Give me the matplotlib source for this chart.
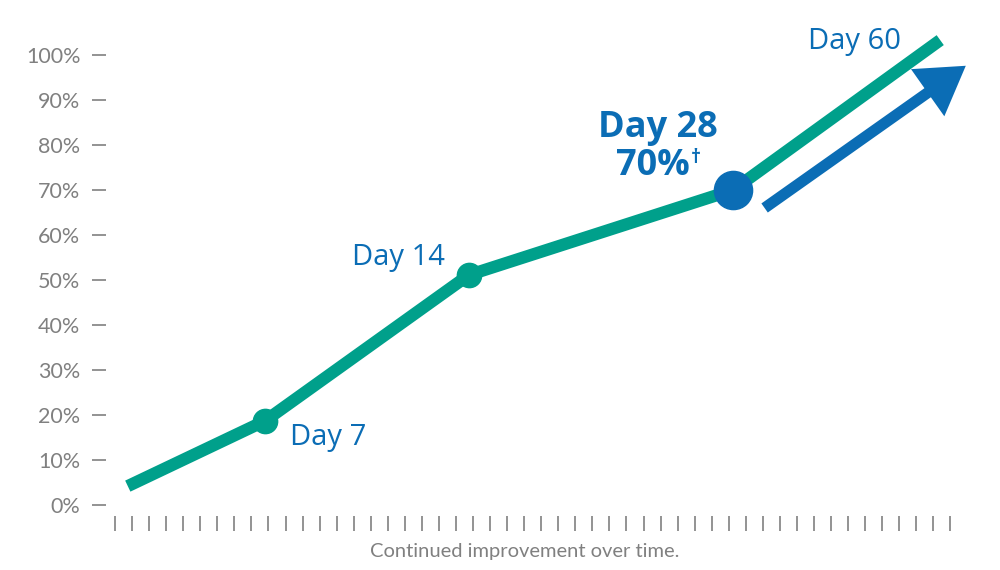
import matplotlib
matplotlib.use("Agg")
import matplotlib.pyplot as plt

# data (x in tick steps, y in percent)
line_x = [0.75, 8.8, 20.75, 36.25, 48.4]
line_y = [4.2, 18.7, 51.1, 70.0, 103.3]
day_labels = ["Day 7", "Day 14", "Day 28", "Day 60"]
small_pts_x = [8.8, 20.75]
small_pts_y = [18.7, 51.1]
big_pt_x = [36.25]
big_pt_y = [70.0]
arrow_tail = (38.1, 66.0)
arrow_tip = (49.9, 97.6)
yticks = list(range(0, 101, 10))
ytick_labels = [f"{v}%" for v in yticks]
xticks = list(range(50))

teal = "#00A08B"
blue = "#0B6DB5"
gray = "#808080"

fig = plt.figure(figsize=(10, 5.7), dpi=100)
ax = fig.add_axes([0.106, 0.0947, 0.884, 0.8965])
ax.set_xlim(-0.528, 51.32)
ax.set_ylim(-2.444, 111.1)

ax.plot(line_x, line_y, color=teal, lw=8.8, solid_capstyle="butt",
        solid_joinstyle="round", zorder=2, clip_on=False)
ax.plot(small_pts_x, small_pts_y, "o", color=teal, ms=17.5, zorder=3)
ax.plot(big_pt_x, big_pt_y, "o", color=blue, ms=27.5, zorder=4)

ax.annotate("", xy=arrow_tip, xytext=arrow_tail,
            arrowprops=dict(arrowstyle="-|>,head_length=1.1,head_width=0.68",
                            color=blue, lw=8, mutation_scale=20,
                            shrinkA=0, shrinkB=0, capstyle="butt",
                            joinstyle="miter"),
            zorder=3, annotation_clip=False)

fnt = "Open Sans"
ax.text(10.26, 15.1, day_labels[0], color=blue, fontsize=21, family=fnt,
        ha="left", va="center")
ax.text(19.35, 54.9, day_labels[1], color=blue, fontsize=21, family=fnt,
        ha="right", va="center")
ax.text(31.85, 83.8, day_labels[2], color=blue, fontsize=26, family=fnt,
        fontweight="bold", ha="center", va="center")
ax.text(33.72, 75.3, "70%", color=blue, fontsize=26, family=fnt,
        fontweight="bold", ha="right", va="center")
ax.text(33.8, 77.2, "\u2020", color=blue, fontsize=14, family=fnt,
        fontweight="bold", ha="left", va="center")
ax.text(43.4, 103.1, day_labels[3], color=blue, fontsize=21, family=fnt,
        ha="center", va="center")

ax.set_yticks(yticks)
ax.set_yticklabels(ytick_labels)
ax.set_xticks(xticks)
ax.set_xticklabels([])
ax.tick_params(axis="y", length=10, width=1.2, color=gray, labelcolor=gray,
               labelsize=15.5, pad=8.5)
ax.tick_params(axis="x", length=10.8, width=1.2, color=gray)
for lab in ax.get_yticklabels():
    lab.set_family("Lato")
for s in ax.spines.values():
    s.set_visible(False)

ax.set_xlabel("Continued improvement over time.", color=gray, fontsize=14.5,
              family="Lato")
ax.xaxis.set_label_coords(0.474, -0.053)
ax.xaxis.label.set_va("top")

fig.savefig("out.png", dpi=100, facecolor="white")
